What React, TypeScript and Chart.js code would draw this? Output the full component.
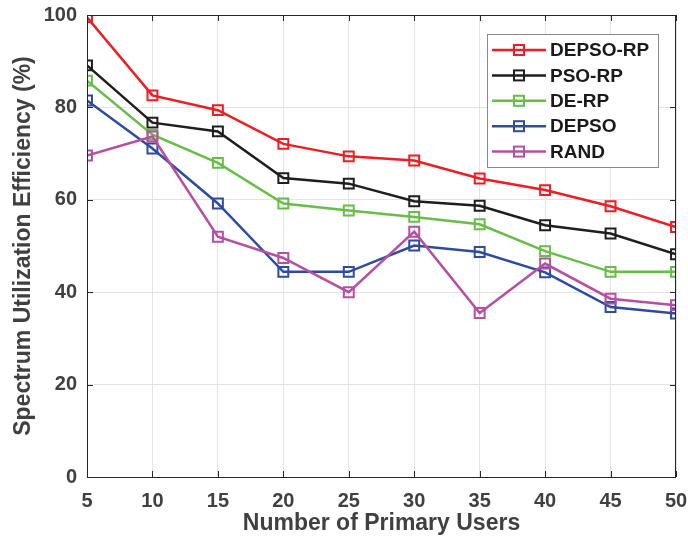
import React, { useEffect, useRef } from "react";
import { Chart, registerables } from "chart.js";

Chart.register(...registerables);

const users = [5, 10, 15, 20, 25, 30, 35, 40, 45, 50];
const seriesNames = ["DEPSO-RP", "PSO-RP", "DE-RP", "DEPSO", "RAND"];
const depsoRp = [99.5, 82.6, 79.4, 72.1, 69.4, 68.5, 64.6, 62.1, 58.6, 54.1];
const psoRp = [89.1, 76.7, 74.8, 64.7, 63.5, 59.7, 58.7, 54.5, 52.7, 48.2];
const deRp = [85.8, 74.1, 68.0, 59.2, 57.7, 56.3, 54.7, 48.9, 44.4, 44.4];
const depso = [81.5, 71.1, 59.2, 44.4, 44.4, 50.1, 48.7, 44.3, 36.8, 35.4];
const rand = [69.6, 73.7, 52.0, 47.4, 40.0, 53.1, 35.5, 46.2, 38.6, 37.2];
const seriesValues = [depsoRp, psoRp, deRp, depso, rand];
const seriesColors = ["#ee1d24", "#1e1e1e", "#68bd48", "#2d4c9f", "#b64fa2"];
const yTicks = [0, 20, 40, 60, 80, 100];

const FONT = "'Liberation Sans', Arial, sans-serif";

export default function App() {
  const ref = useRef<HTMLCanvasElement | null>(null);

  useEffect(() => {
    if (!ref.current) return;

    const framePlugin = {
      id: "frame",
      afterDatasetsDraw(chart: any) {
        const { ctx, chartArea: a, scales } = chart;
        ctx.save();
        ctx.strokeStyle = "#262626";
        ctx.lineWidth = 1;
        ctx.strokeRect(a.left + 0.5, a.top + 0.5, a.right - a.left - 1, a.bottom - a.top);
        const tl = 6;
        ctx.beginPath();
        users.forEach((u) => {
          const x = Math.round(scales.x.getPixelForValue(u)) + 0.5;
          ctx.moveTo(x, a.bottom);
          ctx.lineTo(x, a.bottom - tl);
          ctx.moveTo(x, a.top);
          ctx.lineTo(x, a.top + tl);
        });
        yTicks.forEach((v) => {
          const y = Math.round(scales.y.getPixelForValue(v)) + 0.5;
          ctx.moveTo(a.left, y);
          ctx.lineTo(a.left + tl, y);
          ctx.moveTo(a.right, y);
          ctx.lineTo(a.right - tl, y);
        });
        ctx.stroke();
        ctx.restore();
      },
      afterDraw(chart: any) {
        const { ctx } = chart;
        const bx = 487, by = 34, bw = 171, bh = 133;
        ctx.save();
        ctx.fillStyle = "#ffffff";
        ctx.fillRect(bx, by, bw, bh);
        ctx.strokeStyle = "#8a8a8a";
        ctx.lineWidth = 1;
        ctx.strokeRect(bx + 0.5, by + 0.5, bw, bh);
        ctx.font = `bold 19px ${FONT}`;
        ctx.textBaseline = "middle";
        ctx.textAlign = "left";
        seriesNames.forEach((name, i) => {
          const y = 50 + i * 25.4;
          ctx.strokeStyle = seriesColors[i];
          ctx.lineWidth = 2.5;
          ctx.beginPath();
          ctx.moveTo(492, y);
          ctx.lineTo(546, y);
          ctx.stroke();
          ctx.lineWidth = 2;
          ctx.strokeRect(519 - 5, y - 5, 10, 10);
          ctx.fillStyle = "#1a1a1a";
          ctx.fillText(name, 550, y + 1);
        });
        ctx.restore();
      },
    };

    const chart = new Chart(ref.current, {
      type: "line",
      data: {
        datasets: seriesNames.map((name, i) => ({
          label: name,
          data: users.map((u, j) => ({ x: u, y: seriesValues[i][j] })),
          borderColor: seriesColors[i],
          backgroundColor: "rgba(0,0,0,0)",
          pointBackgroundColor: "rgba(0,0,0,0)",
          pointBorderColor: seriesColors[i],
          borderWidth: 2.5,
          pointBorderWidth: 2,
          pointStyle: "rect",
          pointRadius: 7,
          tension: 0,
          order: seriesNames.length - i,
        })),
      },
      options: {
        animation: false,
        responsive: false,
        maintainAspectRatio: false,
        layout: { padding: { top: 15, right: 12, left: 0, bottom: 0 } },
        plugins: { legend: { display: false }, tooltip: { enabled: false } },
        scales: {
          x: {
            type: "linear",
            min: 5,
            max: 50,
            afterFit: (s: any) => {
              s.height = 69;
              s.paddingLeft = 0;
              s.paddingRight = 0;
            },
            ticks: {
              stepSize: 5,
              color: "#404040",
              font: { family: FONT, size: 20, weight: "bold" },
              padding: 12,
            },
            grid: { color: "#e3e3e3", drawTicks: false },
            border: { display: false },
            title: {
              display: true,
              text: "Number of Primary Users",
              color: "#404040",
              font: { family: FONT, size: 23, weight: "bold", lineHeight: 1 },
              padding: { top: 0, bottom: 11 },
            },
          },
          y: {
            min: 0,
            max: 100,
            afterFit: (s: any) => {
              s.width = 87;
              s.paddingTop = 0;
              s.paddingBottom = 0;
            },
            ticks: {
              stepSize: 20,
              color: "#404040",
              font: { family: FONT, size: 20, weight: "bold" },
              padding: 10,
            },
            grid: { color: "#e3e3e3", drawTicks: false },
            border: { display: false },
            title: {
              display: true,
              text: "Spectrum Utilization Efficiency (%)",
              color: "#404040",
              font: { family: FONT, size: 23, weight: "bold", lineHeight: 1 },
              padding: { top: 12, bottom: 0 },
            },
          },
        },
      },
      plugins: [framePlugin],
    } as any);

    return () => chart.destroy();
  }, []);

  return (
    <div style={{ position: "absolute", left: 0, top: 0, width: 688, height: 546, background: "#fff" }}>
      <canvas ref={ref} width={688} height={546} style={{ display: "block", width: 688, height: 546 }} />
    </div>
  );
}
